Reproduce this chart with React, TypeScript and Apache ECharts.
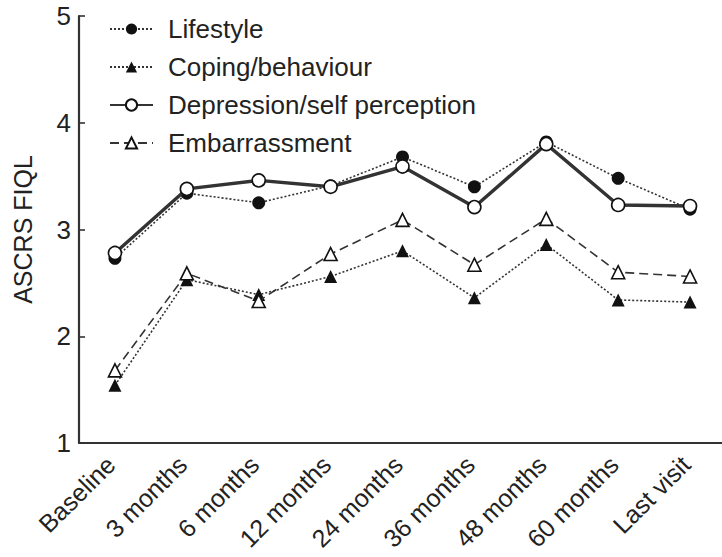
import React, { useEffect, useRef } from "react";
import * as echarts from "echarts";

// Follow-up visits along the x axis
const visits = [
  "Baseline",
  "3 months",
  "6 months",
  "12 months",
  "24 months",
  "36 months",
  "48 months",
  "60 months",
  "Last visit",
];

// Mean ASCRS FIQL domain scores at each visit
const lifestyle = [2.73, 3.34, 3.25, 3.41, 3.68, 3.40, 3.82, 3.48, 3.19];
const coping = [1.54, 2.53, 2.39, 2.56, 2.80, 2.36, 2.86, 2.34, 2.32];
const depression = [2.78, 3.38, 3.46, 3.40, 3.59, 3.21, 3.80, 3.23, 3.22];
const embarrassment = [1.68, 2.59, 2.33, 2.77, 3.09, 2.67, 3.10, 2.60, 2.56];

const yTicks = [1, 2, 3, 4, 5];

const FONT = "'Liberation Sans', Arial, Helvetica, sans-serif";
const INK = "#222";

export default function App() {
  const ref = useRef<HTMLDivElement>(null);

  useEffect(() => {
    if (!ref.current) return;
    const chart = echarts.init(ref.current, undefined, { renderer: "svg" });

    const lineSeries = (
      name: string,
      data: number[],
      symbol: string,
      filled: boolean,
      lineType: any,
      lineWidth: number,
      symbolSize: number
    ) => ({
      name,
      type: "line",
      data,
      symbol,
      symbolSize,
      showAllSymbol: true,
      lineStyle: { color: "#333", width: lineWidth, type: lineType },
      itemStyle: {
        color: filled ? "#111" : "#fff",
        borderColor: "#111",
        borderWidth: filled ? 0 : 1.6,
      },
      emphasis: { disabled: true },
      z: filled ? 3 : 4,
    });

    chart.setOption({
      animation: false,
      textStyle: { fontFamily: FONT },
      grid: {
        left: 79,
        right: -4,
        top: 16,
        bottom: 114,
        containLabel: false,
        outerBoundsMode: "none",
      },
      legend: {
        orient: "vertical",
        left: 104,
        top: 11,
        itemWidth: 43,
        itemHeight: 14,
        itemGap: 12,
        textStyle: {
          fontFamily: FONT,
          fontSize: 26,
          color: INK,
          padding: [0, 0, 0, 10],
        },
        data: ["Lifestyle", "Coping/behaviour", "Depression/self perception", "Embarrassment"],
      },
      xAxis: {
        type: "category",
        data: visits,
        boundaryGap: true,
        axisLine: { lineStyle: { color: "#333", width: 2.2 } },
        axisTick: { inside: true, length: 7, lineStyle: { color: "#333", width: 1.6 } },
        axisLabel: {
          rotate: 45,
          margin: 13,
          padding: [0, 6, 0, 0],
          fontSize: 25,
          color: INK,
          fontFamily: FONT,
          interval: 0,
        },
        splitLine: { show: false },
      },
      yAxis: {
        type: "value",
        min: yTicks[0],
        max: yTicks[yTicks.length - 1],
        interval: 1,
        name: "ASCRS FIQL",
        nameLocation: "middle",
        nameGap: 44,
        nameTextStyle: { fontSize: 25, color: INK, fontFamily: FONT },
        axisLine: { show: true, lineStyle: { color: "#333", width: 2.2 } },
        axisTick: { show: true, inside: true, length: 6, lineStyle: { color: "#333", width: 1.6 } },
        axisLabel: { fontSize: 26, color: INK, margin: 8, fontFamily: FONT },
        splitLine: { show: false },
      },
      series: [
        lineSeries("Lifestyle", lifestyle, "circle", true, [2, 2], 1.6, 13),
        lineSeries("Coping/behaviour", coping, "triangle", true, [2, 2], 1.6, 13),
        lineSeries("Depression/self perception", depression, "circle", false, "solid", 3.4, 13),
        lineSeries("Embarrassment", embarrassment, "triangle", false, [9, 5], 1.6, 13),
      ],
    });

    return () => chart.dispose();
  }, []);

  return (
    <div
      ref={ref}
      style={{ position: "fixed", left: 0, top: 0, width: 722, height: 557, background: "#fff" }}
    />
  );
}
